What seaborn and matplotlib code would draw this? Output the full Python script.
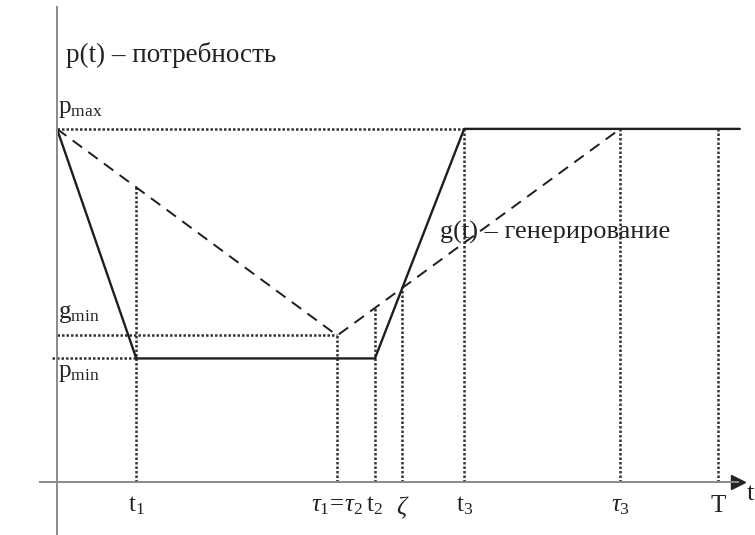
import numpy as np
import matplotlib
matplotlib.use("Agg")
import matplotlib.pyplot as plt
import seaborn as sns
import pandas as pd

# time marks (T = 10 units)
t1, tau12, t2, t3, tau3, T_end = 1.2, 4.24, 4.81, 6.16, 8.52, 10.0
p_max, p_min, g_min = 10.0, 3.5, 4.15

# p(t) - demand, g(t) - generation
p_t = [0.0, t1, t2, t3, 10.33]
p_val = [p_max, p_min, p_min, p_max, p_max]
g_t = [0.0, tau12, tau3]
g_val = [p_max, g_min, p_max]

# zeta: crossing of rising p(t) and rising g(t)
k_p = (p_max - p_min) / (t3 - t2)
k_g = (p_max - g_min) / (tau3 - tau12)
zeta = (g_min - k_g * tau12 - p_min + k_p * t2) / (k_p - k_g)

tick_pos = [t1, tau12, t2, zeta, t3, tau3, T_end]
tick_lab = [r'$\mathrm{t}_1$', r'$\tau_1\!=\!\tau_2$', r'$\mathrm{t}_2$',
            r'$\zeta$', r'$\mathrm{t}_3$', r'$\tau_3$', 'T']

sns.set_theme(style="white")
plt.rcParams['font.family'] = ['Liberation Serif', 'DejaVu Serif']
plt.rcParams['mathtext.fontset'] = 'custom'
plt.rcParams['mathtext.rm'] = 'Liberation Serif'
plt.rcParams['mathtext.it'] = 'Liberation Serif:italic'

fig = plt.figure(figsize=(7.55, 5.35), dpi=100)
ax = fig.add_axes([0, 0, 1, 1])
ax.set_xlim(-0.862, 10.56)
ax.set_ylim(-1.50, 13.65)

dark = '#1e1e1e'
dot_kw = dict(colors='#333333', linestyles=(0, (1, 0.8)), linewidth=1.8)

# dotted helper lines
tops = [max(np.interp(x, p_t, p_val), np.interp(x, g_t, g_val)) for x in tick_pos]
ax.vlines(tick_pos, 0, tops, **dot_kw)
ax.hlines([p_max, g_min, p_min], [0, 0, -0.08], [t3, tau12, t1], **dot_kw)

df_p = pd.DataFrame({'t': p_t, 'v': p_val})
df_g = pd.DataFrame({'t': g_t, 'v': g_val})
sns.lineplot(data=df_p, x='t', y='v', sort=False, estimator=None,
             color=dark, linewidth=1.7, ax=ax)
sns.lineplot(data=df_g, x='t', y='v', sort=False, estimator=None,
             color=dark, linewidth=1.4, ax=ax, dashes=False)
ax.lines[-1].set_dashes((6, 4))

# axes lines
for s in ['top', 'right']:
    ax.spines[s].set_visible(False)
ax.spines['left'].set_position(('data', 0))
ax.spines['bottom'].set_position(('data', 0))
ax.spines['left'].set_bounds(-1.5, 13.45)
ax.spines['bottom'].set_bounds(-0.26, 10.3)
for s in ['left', 'bottom']:
    ax.spines[s].set_color('#8a8a8a')
    ax.spines[s].set_linewidth(1.4)
ax.plot([10.3], [0], marker='>', markersize=10, color='#222222', clip_on=False)

ax.set_yticks([])
ax.set_xticks(tick_pos)
ax.set_xticklabels(tick_lab, fontsize=18, color='#222222')
ax.tick_params(axis='x', length=0, pad=9)
ax.set_xlabel('')
ax.set_ylabel('')

ax.text(10.55, -0.35, 't', fontsize=19, color='#222222', ha='right', va='center')
ax.text(0.14, 12.1, 'p(t) – потребность', fontsize=19.5, color='#222222', va='center')
ax.text(0.02, p_max + 0.25, r'$\mathrm{p}_{\mathrm{max}}$', fontsize=18, color='#222222', va='bottom')
ax.text(0.02, g_min + 0.3, r'$\mathrm{g}_{\mathrm{min}}$', fontsize=18, color='#222222', va='bottom')
ax.text(0.02, p_min - 0.1, r'$\mathrm{p}_{\mathrm{min}}$', fontsize=18, color='#222222', va='top')
ax.text(5.79, 7.08, 'g(t) – генерирование', fontsize=19, color='#222222', va='center')

fig.savefig('out.png', dpi=100)
